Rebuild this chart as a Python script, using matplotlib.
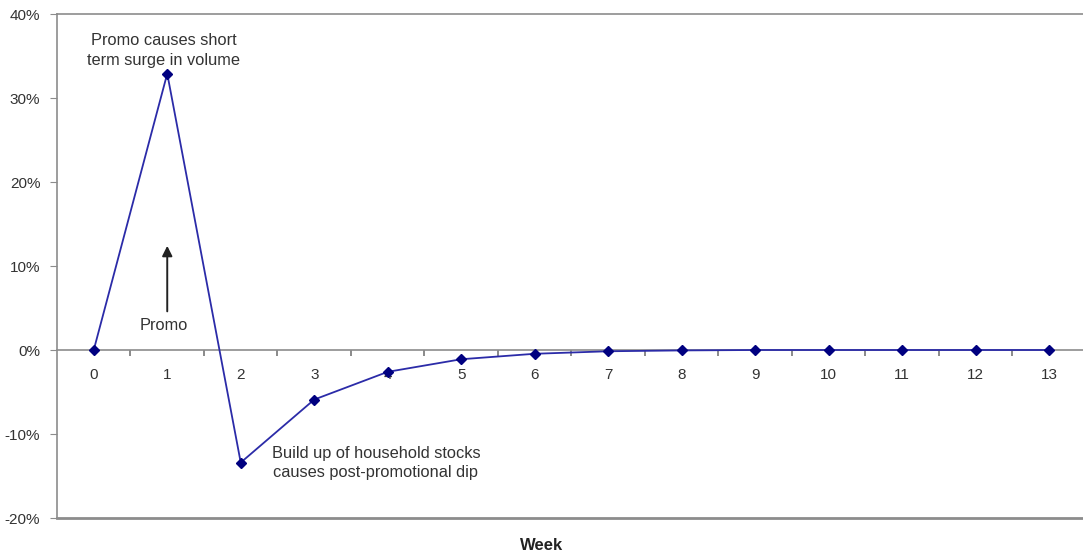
import matplotlib.pyplot as plt
import numpy as np
from matplotlib.ticker import FuncFormatter

# weekly volume change relative to baseline
weeks = list(range(0, 14))
change = [0.0, 0.329, -0.134, -0.059, -0.026, -0.011, -0.0045, -0.0015, -0.0005,
          0.0, 0.0, 0.0, 0.0, 0.0]

peak_note = "Promo causes short\nterm surge in volume"
dip_note = "Build up of household stocks\ncauses post-promotional dip"

plt.rcParams['font.family'] = ['Liberation Sans', 'DejaVu Sans']

fig = plt.figure(figsize=(10.83, 5.53), dpi=100)
ax = fig.add_axes([57 / 1083, 35 / 553, 1 - 57 / 1083, 504 / 553])

grey = "#8c8c8c"
txt = "#333333"

ax.plot(weeks, change, color="#2b2ba8", lw=1.3, marker="D", ms=5,
        markerfacecolor="#000080", markeredgecolor="#000080", zorder=3)

ax.set_xlim(-0.5, 13.46)
ax.set_ylim(-0.2, 0.4)

# category axis sits on the zero line
ax.spines['bottom'].set_position(('data', 0))
ax.spines['bottom'].set_color(grey)
ax.spines['left'].set_color(grey)
ax.spines['top'].set_color(grey)
ax.spines['right'].set_visible(False)
for s in ['bottom', 'left', 'top']:
  ax.spines[s].set_linewidth(1.2)
ax.axhline(-0.2, color=grey, lw=2.0, clip_on=False)

ax.set_xticks(weeks)
ax.set_xticklabels([str(w) for w in weeks])
ax.set_xticks(np.arange(0.5, 13.5, 1.0), minor=True)
ax.tick_params(axis='x', which='major', length=0, pad=13, labelsize=11, labelcolor=txt)
ax.tick_params(axis='x', which='minor', length=4, width=1.2, direction='out', color="#777777")

ax.set_yticks(np.arange(-0.2, 0.41, 0.1))
ax.yaxis.set_major_formatter(FuncFormatter(lambda v, p: "%d%%" % round(v * 100)))
ax.tick_params(axis='y', length=5, color=grey, pad=7, labelsize=11, labelcolor=txt)

ax.text(0.95, 0.357, peak_note, ha="center", va="center", fontsize=11.8,
        color=txt, linespacing=1.4)
ax.text(3.84, -0.1345, dip_note, ha="center", va="center", fontsize=11.8,
        color=txt, linespacing=1.4)

ax.annotate("", xy=(1.0, 0.124), xytext=(1.0, 0.046),
            arrowprops=dict(arrowstyle="-|>", color="#222222", lw=1.4,
                            mutation_scale=15, shrinkA=0, shrinkB=0))
ax.text(0.95, 0.029, "Promo", ha="center", va="center", fontsize=11.8, color=txt)

fig.text(542 / 1083, 1 - 545 / 553, "Week", ha="center", va="center",
         fontsize=12, fontweight="bold", color="#222222")

fig.savefig("out.png", dpi=100)
